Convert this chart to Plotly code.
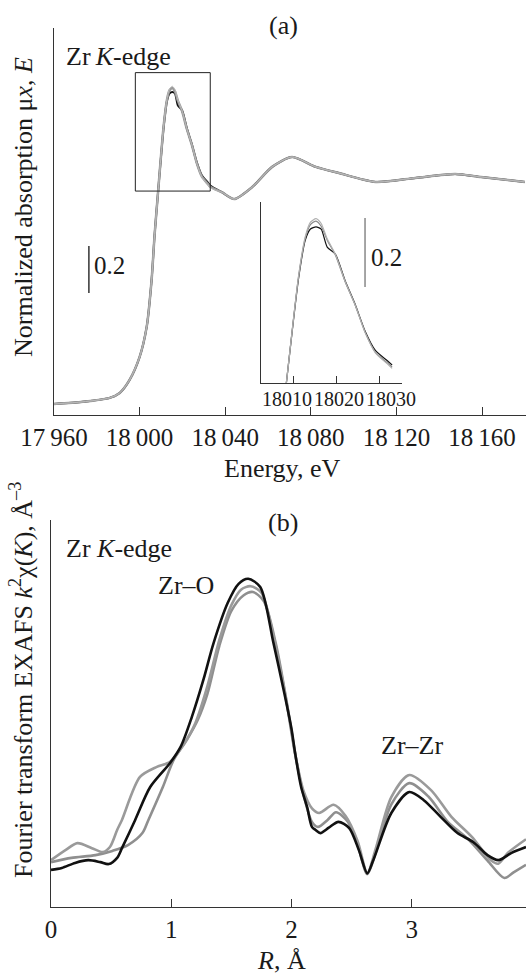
import plotly.graph_objects as go

# ---------------- Panel (a): XANES, Zr K-edge ----------------
energy_ev = [17960, 17973.5, 17986, 17990.7, 17995.3, 18000, 18003.3, 18005.6, 18007, 18008.6,
             18011.2, 18012.8, 18014.0, 18015.3, 18016.5, 18017.9, 18019.8, 18022.1, 18024.4,
             18026.7, 18029.1, 18031.9, 18033.0, 18038.6, 18044.2, 18052.6, 18061.9, 18071.2,
             18082.3, 18093, 18110.2, 18128.8, 18147.4, 18159.5, 18180]
mu_black = [0.0, 0.009, 0.026, 0.047, 0.102, 0.200, 0.328, 0.528, 0.72, 0.90,
            1.176, 1.290, 1.322, 1.328, 1.322, 1.270, 1.250, 1.172, 1.105,
            1.028, 0.972, 0.942, 0.930, 0.90, 0.872, 0.923, 1.009, 1.051,
            1.009, 0.983, 0.945, 0.962, 0.979, 0.966, 0.945]
mu_gray = [0.0, 0.009, 0.026, 0.047, 0.102, 0.200, 0.328, 0.528, 0.72, 0.90,
           1.181, 1.296, 1.335, 1.345, 1.330, 1.290, 1.247, 1.169, 1.103,
           1.025, 0.967, 0.936, 0.924, 0.90, 0.872, 0.923, 1.009, 1.051,
           1.009, 0.983, 0.945, 0.962, 0.979, 0.966, 0.945]
mu_light = [0.0, 0.009, 0.026, 0.047, 0.102, 0.200, 0.328, 0.528, 0.72, 0.90,
            1.183, 1.300, 1.342, 1.352, 1.338, 1.294, 1.249, 1.170, 1.103,
            1.024, 0.965, 0.933, 0.920, 0.90, 0.872, 0.923, 1.009, 1.051,
            1.009, 0.983, 0.945, 0.962, 0.979, 0.966, 0.945]

energy_ticks = [17960, 18000, 18040, 18080, 18120, 18160]
energy_ticktext = ["17\u2009960", "18\u2009000", "18\u2009040", "18\u2009080", "18\u2009120", "18\u2009160"]
inset_ticks = [18010, 18020, 18030]
inset_ticktext = ["18010", "18020", "18030"]
inset_max_energy = 18033.0

# ---------------- Panel (b): Fourier transform EXAFS ----------------
r_black = [0, 0.09, 0.2, 0.31, 0.41, 0.48, 0.55, 0.59, 0.70, 0.825, 0.99, 1.08, 1.17, 1.27,
           1.35, 1.47, 1.56, 1.64, 1.74, 1.85, 1.94, 2.0, 2.03, 2.08, 2.13, 2.17, 2.2, 2.24,
           2.31, 2.39, 2.48, 2.56, 2.63, 2.68, 2.83, 2.98, 3.1, 3.24, 3.38, 3.51, 3.63, 3.72,
           3.83, 3.95]
ft_black = [0.96, 1.01, 1.14, 1.21, 1.16, 1.11, 1.27, 1.52, 2.25, 3.10, 3.72, 4.15, 4.9, 5.9,
            6.8, 7.86, 8.35, 8.48, 8.27, 6.82, 5.53, 4.6, 3.98, 3.10, 2.58, 2.07, 1.99, 1.91,
            2.05, 2.20, 2.04, 1.47, 0.87, 1.21, 2.43, 2.97, 2.76, 2.33, 1.91, 1.68, 1.34, 1.21,
            1.40, 1.55]

r_gray1 = [0, 0.12, 0.22, 0.34, 0.43, 0.49, 0.55, 0.59, 0.74, 0.88, 0.99, 1.1, 1.2, 1.3, 1.4,
           1.5, 1.58, 1.66, 1.75, 1.85, 1.95, 2.03, 2.1, 2.17, 2.23, 2.35, 2.45, 2.55, 2.63,
           2.7, 2.83, 2.98, 3.16, 3.33, 3.5, 3.66, 3.72, 3.8, 3.95]
ft_gray1 = [1.21, 1.47, 1.65, 1.52, 1.42, 1.55, 1.99, 2.25, 3.36, 3.62, 3.75, 4.19, 4.75, 5.7,
            6.9, 7.8, 8.2, 8.29, 8.12, 7.0, 5.45, 3.95, 3.0, 2.55, 2.43, 2.64, 2.35, 1.7, 0.88,
            1.5, 2.84, 3.41, 3.02, 2.33, 1.81, 1.2, 1.12, 1.4, 1.75]

r_gray2 = [0, 0.17, 0.37, 0.51, 0.64, 0.76, 0.81, 0.93, 1.02, 1.13, 1.22, 1.3, 1.4, 1.5, 1.6,
           1.68, 1.77, 1.87, 1.96, 2.04, 2.1, 2.17, 2.22, 2.3, 2.37, 2.47, 2.55, 2.63, 2.7,
           2.83, 2.98, 3.14, 3.3, 3.47, 3.63, 3.77, 3.85, 3.95]
ft_gray2 = [1.16, 1.27, 1.34, 1.45, 1.60, 1.91, 2.25, 3.10, 3.80, 4.32, 4.83, 5.5, 6.75, 7.65,
            8.05, 8.14, 7.9, 6.8, 5.3, 3.8, 2.9, 2.2, 2.07, 2.25, 2.45, 2.2, 1.6, 0.85, 1.4,
            2.65, 3.20, 2.85, 2.2, 1.75, 1.2, 0.75, 0.9, 1.09]

r_ticks = [0, 1, 2, 3]
r_ticktext = ["0", "1", "2", "3"]

FONT = "Liberation Serif"
TXT = "#1a1a1a"
AX = "#333333"
W, H = 526, 975

fig = go.Figure()

# main panel (a)
fig.add_trace(go.Scatter(x=energy_ev, y=mu_black, mode="lines",
                         line=dict(color="#111111", width=2, shape="spline", smoothing=0.7),
                         xaxis="x", yaxis="y"))
fig.add_trace(go.Scatter(x=energy_ev, y=mu_gray, mode="lines",
                         line=dict(color="#999999", width=2.5, shape="spline", smoothing=0.7),
                         xaxis="x", yaxis="y"))
fig.add_trace(go.Scatter(x=energy_ev, y=mu_light, mode="lines",
                         line=dict(color="#bbbbbb", width=1, shape="spline", smoothing=0.7),
                         xaxis="x", yaxis="y"))

# inset
ins_idx = [i for i, e in enumerate(energy_ev) if e <= inset_max_energy]
ins_e = [energy_ev[i] for i in ins_idx]
for ser, col in ((mu_black, "#111111"), (mu_gray, "#888888"), (mu_light, "#b0b0b0")):
    fig.add_trace(go.Scatter(x=ins_e, y=[ser[i] for i in ins_idx], mode="lines",
                             line=dict(color=col, width=1.2, shape="spline", smoothing=0.6),
                             xaxis="x3", yaxis="y3"))

# panel (b)
fig.add_trace(go.Scatter(x=r_gray2, y=ft_gray2, mode="lines",
                         line=dict(color="#8f8f8f", width=2.6, shape="spline", smoothing=0.8),
                         xaxis="x2", yaxis="y2"))
fig.add_trace(go.Scatter(x=r_gray1, y=ft_gray1, mode="lines",
                         line=dict(color="#9a9a9a", width=2.6, shape="spline", smoothing=0.8),
                         xaxis="x2", yaxis="y2"))
fig.add_trace(go.Scatter(x=r_black, y=ft_black, mode="lines",
                         line=dict(color="#111111", width=2.6, shape="spline", smoothing=0.8),
                         xaxis="x2", yaxis="y2"))


def px_x(p):
    return p / W


def px_y(p):
    return (H - p) / H


tickfont = dict(family=FONT, size=25, color=TXT)
common = dict(showgrid=False, zeroline=False, showline=True, linecolor=AX, linewidth=1,
              automargin=False, tickangle=0)

fig.update_layout(
    template="none",
    width=W, height=H, margin=dict(l=0, r=0, t=0, b=0, pad=0, autoexpand=False),
    paper_bgcolor="white", plot_bgcolor="white", showlegend=False,
    font=dict(family=FONT, color=TXT),
    xaxis=dict(domain=[px_x(54), 1.0], range=[17960, 18180.5], anchor="y",
               ticks="inside", ticklen=8, tickcolor=AX, tickvals=energy_ticks,
               ticktext=energy_ticktext, tickfont=tickfont, **common),
    yaxis=dict(domain=[px_y(415), px_y(28)], range=[-0.047, 1.6], anchor="x",
               ticks="", showticklabels=False, **common),
    xaxis2=dict(domain=[px_x(51), 1.0], range=[0, 3.95], anchor="y2",
                ticks="inside", ticklen=8, tickcolor=AX, tickvals=r_ticks,
                ticktext=r_ticktext, tickfont=tickfont, **common),
    yaxis2=dict(domain=[px_y(907), px_y(520)], range=[0, 10], anchor="x2",
                ticks="", showticklabels=False, **common),
    xaxis3=dict(domain=[px_x(261), px_x(402)], range=[18002.5, 18035.3], anchor="y3",
                ticks="inside", ticklen=7, tickcolor=AX, tickvals=inset_ticks,
                showticklabels=False, **common),
    yaxis3=dict(domain=[px_y(383), px_y(202)], range=[0.878, 1.40], anchor="x3",
                ticks="", showticklabels=False, **common),
)

shapes = [
    dict(type="rect", xref="x", yref="y", x0=17998, x1=18033, y0=0.906, y1=1.41,
         line=dict(color="#222222", width=1)),
    dict(type="line", xref="x", yref="y", x0=17976.3, x1=17976.3, y0=0.472, y1=0.672,
         line=dict(color="#333333", width=1.5)),
    dict(type="line", xref="x3", yref="y3", x0=18026.7, x1=18026.7, y0=1.155, y1=1.354,
         line=dict(color="#888888", width=1.5)),
]
fig.update_layout(shapes=shapes)

ann = []


def add(text, x, y, size=26, xanchor="center", yanchor="middle", angle=0, xref="paper", yref="paper"):
    ann.append(dict(text=text, x=x, y=y, xref=xref, yref=yref, showarrow=False,
                    xanchor=xanchor, yanchor=yanchor, textangle=angle,
                    font=dict(family=FONT, size=size, color=TXT)))


add("(a)", px_x(283), px_y(25))
add("Zr\u2009<i>K</i>-edge", px_x(64), px_y(57), xanchor="left")
add("0.2", 17977.8, 0.59, size=25, xanchor="left", xref="x", yref="y")
add("0.2", 18027.6, 1.241, size=25, xanchor="left", xref="x3", yref="y3")
# inset tick labels: packed side by side as in the original (shifted slightly from their ticks)
inset_label_px = [287, 339, 391]
for lab, pxc in zip(inset_ticktext, inset_label_px):
    add(lab, px_x(pxc), px_y(399), size=20)
add("Energy, eV", px_x(282), px_y(468))
add("Normalized absorption μ<i>x</i>, <i>E</i>", px_x(23), px_y(207), angle=-90)
add("(b)", px_x(283), px_y(522))
add("Zr <i>K</i>-edge", px_x(64), px_y(548), xanchor="left")
add("Zr–O", px_x(186), px_y(585))
add("Zr–Zr", px_x(412), px_y(745))
add("<i>R</i>, Å", px_x(281), px_y(960))
add("Fourier transform EXAFS <i>k</i><sup>2</sup>χ(<i>K</i>), Å<sup>–3</sup>", px_x(21), px_y(680), angle=-90)
fig.update_layout(annotations=ann)

fig.write_html("out.html")
